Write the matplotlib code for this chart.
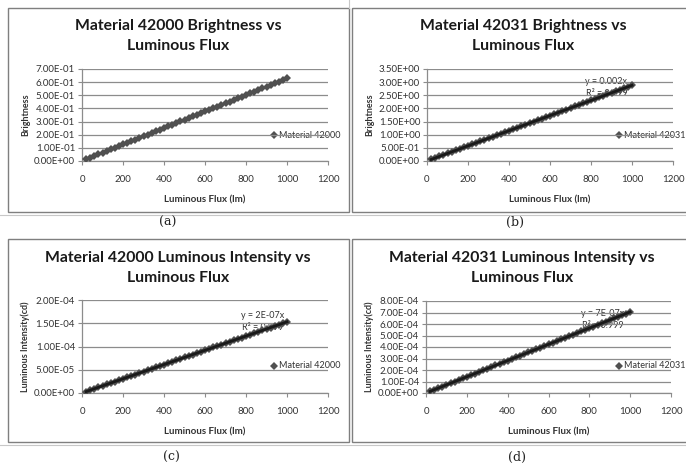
import matplotlib
matplotlib.use("Agg")
import matplotlib.pyplot as plt
from matplotlib.ticker import FuncFormatter, MultipleLocator
import numpy as np

plt.rcParams['font.family'] = ['Lato', 'DejaVu Sans']

# ---------------- data ----------------
flux = list(range(20, 1001, 20))  # luminous flux (lm)

brightness_42000 = [0.0126, 0.0251, 0.0377, 0.0502, 0.0628, 0.0754, 0.0879, 0.1005, 0.1130, 0.1256,
                    0.1382, 0.1507, 0.1633, 0.1758, 0.1884, 0.2010, 0.2135, 0.2261, 0.2386, 0.2512,
                    0.2638, 0.2763, 0.2889, 0.3014, 0.3140, 0.3266, 0.3391, 0.3517, 0.3642, 0.3768,
                    0.3894, 0.4019, 0.4145, 0.4270, 0.4396, 0.4522, 0.4647, 0.4773, 0.4898, 0.5024,
                    0.5150, 0.5275, 0.5401, 0.5526, 0.5652, 0.5778, 0.5903, 0.6029, 0.6154, 0.6280]

brightness_42031 = [0.0576, 0.1152, 0.1728, 0.2304, 0.2880, 0.3456, 0.4032, 0.4608, 0.5184, 0.5760,
                    0.6336, 0.6912, 0.7488, 0.8064, 0.8640, 0.9216, 0.9792, 1.0368, 1.0944, 1.1520,
                    1.2096, 1.2672, 1.3248, 1.3824, 1.4400, 1.4976, 1.5552, 1.6128, 1.6704, 1.7280,
                    1.7856, 1.8432, 1.9008, 1.9584, 2.0160, 2.0736, 2.1312, 2.1888, 2.2464, 2.3040,
                    2.3616, 2.4192, 2.4768, 2.5344, 2.5920, 2.6496, 2.7072, 2.7648, 2.8224, 2.8800]

intensity_42000 = [3.06e-6, 6.12e-6, 9.18e-6, 1.224e-5, 1.530e-5, 1.836e-5, 2.142e-5, 2.448e-5, 2.754e-5, 3.060e-5,
                   3.366e-5, 3.672e-5, 3.978e-5, 4.284e-5, 4.590e-5, 4.896e-5, 5.202e-5, 5.508e-5, 5.814e-5, 6.120e-5,
                   6.426e-5, 6.732e-5, 7.038e-5, 7.344e-5, 7.650e-5, 7.956e-5, 8.262e-5, 8.568e-5, 8.874e-5, 9.180e-5,
                   9.486e-5, 9.792e-5, 1.0098e-4, 1.0404e-4, 1.0710e-4, 1.1016e-4, 1.1322e-4, 1.1628e-4, 1.1934e-4, 1.2240e-4,
                   1.2546e-4, 1.2852e-4, 1.3158e-4, 1.3464e-4, 1.3770e-4, 1.4076e-4, 1.4382e-4, 1.4688e-4, 1.4994e-4, 1.5300e-4]

intensity_42031 = [1.41e-5, 2.82e-5, 4.23e-5, 5.64e-5, 7.05e-5, 8.46e-5, 9.87e-5, 1.128e-4, 1.269e-4, 1.410e-4,
                   1.551e-4, 1.692e-4, 1.833e-4, 1.974e-4, 2.115e-4, 2.256e-4, 2.397e-4, 2.538e-4, 2.679e-4, 2.820e-4,
                   2.961e-4, 3.102e-4, 3.243e-4, 3.384e-4, 3.525e-4, 3.666e-4, 3.807e-4, 3.948e-4, 4.089e-4, 4.230e-4,
                   4.371e-4, 4.512e-4, 4.653e-4, 4.794e-4, 4.935e-4, 5.076e-4, 5.217e-4, 5.358e-4, 5.499e-4, 5.640e-4,
                   5.781e-4, 5.922e-4, 6.063e-4, 6.204e-4, 6.345e-4, 6.486e-4, 6.627e-4, 6.768e-4, 6.909e-4, 7.050e-4]

titles = [("Material 42000 Brightness vs", "Luminous Flux"),
          ("Material 42031 Brightness vs", "Luminous Flux"),
          ("Material 42000 Luminous Intensity vs", "Luminous Flux"),
          ("Material 42031 Luminous Intensity vs", "Luminous Flux")]
ylabels = ["Brightness", "Brightness", "Luminous Intensity(cd)", "Luminous Intensity(cd)"]
legends = ["Material 42000", "Material 42031", "Material 42000", "Material 42031"]
captions = ["(a)", "(b)", "(c)", "(d)"]
trend_eq = [None, "y = 0.002x", "y = 2E-07x", "y = 7E-07x"]
trend_r2 = [None, "R² = 0.999", "R² = 0.999", "R² = 0.999"]
ymax = [0.7, 3.5, 2.0e-4, 8.0e-4]
ystep = [0.1, 0.5, 5.0e-5, 1.0e-4]
series = [brightness_42000, brightness_42031, intensity_42000, intensity_42031]

# ---------------- layout (pixels) ----------------
W, H = 686, 466
fig = plt.figure(figsize=(W / 100, H / 100), dpi=100)
fig.patch.set_facecolor("white")

def fr(x0, y0, x1, y1):
    return [x0 / W, 1 - y1 / H, (x1 - x0) / W, (y1 - y0) / H]

ov = fig.add_axes([0, 0, 1, 1], zorder=0)
ov.set_xlim(0, W)
ov.set_ylim(H, 0)
ov.axis("off")

panels = [
    # frame, plot area, caption pos, title center x, title first-line y
    ((8, 8, 349, 212), (82, 69, 328, 161), (168, 222), 178, 26),
    ((352, 8, 700, 212), (427, 69, 673, 161), (515, 222), 523, 26),
    ((8, 239, 349, 442), (82, 300, 328, 393), (171, 457), 178, 258),
    ((352, 239, 700, 442), (426, 301, 671, 393), (517, 457), 522, 258),
]

for (fx0, fy0, fx1, fy1), _, _, _, _ in panels:
    ov.add_patch(plt.Rectangle((fx0, fy0), fx1 - fx0, fy1 - fy0, fill=False,
                               ec="#7f7f7f", lw=1.0))
ov.plot([0, W], [214.5, 214.5], color="#c8c8c8", lw=0.8)
ov.plot([0, W], [444.5, 444.5], color="#c8c8c8", lw=0.8)
ov.plot([348.5, 348.5], [0, 8], color="#c8c8c8", lw=0.8)

marker_color = "#505050"
grid_color = "#8c8c8c"
x = np.array(flux, dtype=float)

for i, ((fx0, fy0, fx1, fy1), (ax0, ay0, ax1, ay1), (cx, cy), tcx, tcy) in enumerate(panels):
    ax = fig.add_axes(fr(ax0, ay0, ax1, ay1), zorder=2)
    ax.patch.set_alpha(0)
    y = np.array(series[i], dtype=float)
    ax.plot(x, y, linestyle="none", marker="D", markersize=4.5,
            color=marker_color, markeredgewidth=0, zorder=3)
    if trend_eq[i] is not None:
        k = np.sum(x * y) / np.sum(x * x)
        xt = np.array([x.min(), x.max()])
        ax.plot(xt, k * xt, color="#1a1a1a", lw=2.0, zorder=4)
    ax.set_xlim(0, 1200)
    ax.set_ylim(0, ymax[i])
    ax.xaxis.set_major_locator(MultipleLocator(200))
    ax.yaxis.set_major_locator(MultipleLocator(ystep[i]))
    ax.yaxis.set_major_formatter(FuncFormatter(lambda v, p: f"{v:.2E}"))
    ax.grid(axis="y", color=grid_color, lw=0.9)
    ax.set_axisbelow(True)
    for s in ["top", "right"]:
        ax.spines[s].set_visible(False)
    for s in ["left", "bottom"]:
        ax.spines[s].set_color("#8c8c8c")
        ax.spines[s].set_linewidth(0.9)
    ax.tick_params(axis="both", labelsize=7, colors="#8c8c8c", labelcolor="#333333",
                   length=3, width=0.8, direction="out")
    ax.tick_params(axis="x", pad=7)
    ax.tick_params(axis="y", pad=2)
    ax.set_xlabel("Luminous Flux (lm)", fontsize=7, fontweight="bold", color="#333333", labelpad=8)
    ax.set_ylabel(ylabels[i], fontsize=6.5, fontweight="bold", color="#333333", labelpad=3)

    # title (centered over panel frame)
    ov.text(tcx, tcy, titles[i][0], fontsize=11.3, fontweight="bold", color="#1a1a1a",
            ha="center", va="center")
    ov.text(tcx, tcy + 20, titles[i][1], fontsize=11.3, fontweight="bold", color="#1a1a1a",
            ha="center", va="center")

    # legend
    ly = 135 if i < 2 else 366
    lx = (274 if i % 2 == 0 else 619)
    ov.plot([lx], [ly], marker="D", markersize=4, color=marker_color, markeredgewidth=0)
    ov.text(lx + 5, ly, legends[i], fontsize=6.5, color="#333333", va="center", ha="left")

    # trendline label
    if trend_eq[i] is not None:
        tx = {1: 585, 2: 241, 3: 581}[i]
        ty = {1: 81, 2: 316, 3: 313}[i]
        ov.text(tx, ty, trend_eq[i], fontsize=6.5, color="#333333", va="center", ha="left", zorder=5)
        ov.text(tx + 1, ty + 12, trend_r2[i], fontsize=6.5, color="#333333", va="center", ha="left", zorder=5)

    ov.text(cx, cy, captions[i], fontsize=9, family="DejaVu Serif", color="#222222",
            ha="center", va="center")

fig.savefig("out.png", dpi=100)
